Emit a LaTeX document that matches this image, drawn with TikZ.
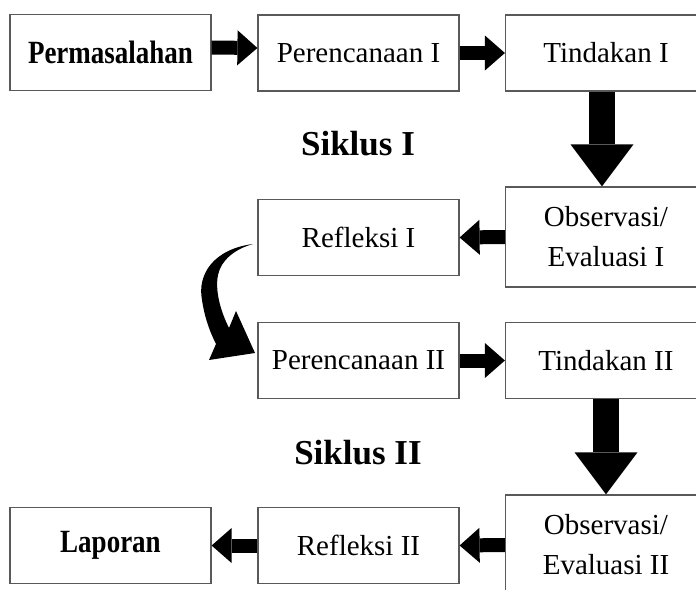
\documentclass[tikz,border=0pt]{standalone}
\usepackage{fontspec}
\setmainfont{Liberation Serif}
\usetikzlibrary{arrows.meta}
\newcommand{\tallbold}[1]{\scalebox{1}[1.2]{#1}}

\begin{document}
\begin{tikzpicture}[x=0.5pt, y=-0.5pt,
  box/.style={rectangle,draw=black!65,line width=0.6pt,minimum width=100.5pt,minimum height=38pt,inner sep=0pt,align=center,font=\fontsize{14.5}{20}\selectfont},
  tall box/.style={box,minimum height=50pt},
  bold box/.style={box,font=\fontsize{13.5}{16}\selectfont\bfseries},
  title/.style={font=\fontsize{17.5}{20}\selectfont\bfseries},
  fat arrow/.style={line width=7pt,-{Triangle[length=10pt,width=17.5pt,line width=0pt]}},
  big arrow/.style={line width=13pt,-{Triangle[length=21pt,width=31.5pt,line width=0pt]}}]
\useasboundingbox[fill=white] (0,0) rectangle (696,589);
\clip (0,0) rectangle (696,589);

\node [bold box](perm) at (110.5,52.5) {\tallbold{Permasalahan}};
\node [box](per1) at (358.5,53) {Perencanaan I};
\node [box](tind1) at (606,53) {Tindakan I};
\node [tall box](obs1) at (606,237) {Observasi/\\Evaluasi I};
\node [box](ref1) at (358.5,237.5) {Refleksi I};
\node [box](per2) at (358.5,360.5) {Perencanaan II};
\node [box](tind2) at (606,360.5) {Tindakan II};
\node [tall box](obs2) at (606,545) {Observasi/\\Evaluasi II};
\node [box](ref2) at (358.5,545.5) {Refleksi II};
\node [bold box](lap) at (110.5,545.5) {\tallbold{Laporan}};

\node [title](sik1) at (358,143.5) {Siklus I};
\node [title](sik2) at (358,453) {Siklus II};

% block arrows
\draw [fat arrow] ([yshift=2.5pt]perm.east) -- ([yshift=2.5pt]per1.west);
\draw [fat arrow] (per1.east) -- (tind1.west);
\draw [big arrow] ([xshift=-2pt]tind1.south) -- ([xshift=-2pt]obs1.north);
\draw [fat arrow] (obs1.west) -- (ref1.east);
\draw [fat arrow] (per2.east) -- (tind2.west);
\draw [big arrow] (tind2.south) -- (obs2.north);
\draw [fat arrow] (obs2.west) -- (ref2.east);
\draw [fat arrow] (ref2.west) -- (lap.east);

% curved arrow from Refleksi I to Perencanaan II
\fill (253,244) .. controls (214,249) and (197,274) .. (202,300)
  .. controls (205,320) and (211,334) .. (216,344) -- (209,360) -- (255,353)
  -- (236,311) -- (229,328) .. controls (220,310) and (215,290) .. (218,275)
  .. controls (221,260) and (235,249) .. (253,244) -- cycle;
\end{tikzpicture}
\end{document}
